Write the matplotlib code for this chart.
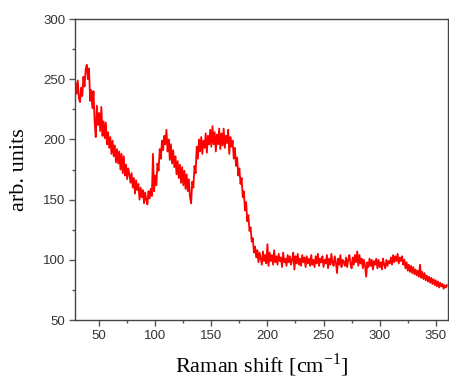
import numpy as np
import matplotlib
matplotlib.use("Agg")
import matplotlib.pyplot as plt
from matplotlib.ticker import MultipleLocator

plt.rcParams['mathtext.fontset'] = 'custom'
plt.rcParams['mathtext.rm'] = 'Liberation Serif'

# Raman intensity (arb. units), sampled every 1 cm^-1 starting at 29 cm^-1
intensity = [
    247, 238, 249, 234, 231, 243, 236, 252, 244, 258,
    262, 250, 259, 232, 241, 226, 240, 215, 202, 228,
    212, 222, 207, 227, 203, 215, 201, 214, 196, 206,
    193, 202, 188, 199, 186, 195, 181, 192, 180, 190,
    175, 188, 172, 186, 170, 179, 167, 176, 171, 164,
    172, 160, 168, 155, 166, 158, 163, 150, 160, 152,
    158, 147, 156, 150, 146, 157, 151, 159, 153, 188,
    157, 170, 162, 180, 174, 192, 184, 199, 191, 203,
    196, 208, 190, 200, 183, 196, 180, 191, 177, 186,
    171, 182, 168, 179, 164, 177, 162, 174, 159, 171,
    157, 167, 152, 147, 165, 160, 178, 172, 194, 184,
    200, 190, 202, 188, 199, 193, 205, 189, 203, 196,
    208, 194, 211, 196, 206, 190, 204, 196, 209, 192,
    205, 195, 209, 193, 203, 197, 208, 188, 202, 194,
    199, 184, 193, 178, 185, 170, 176, 163, 168, 152,
    157, 141, 148, 132, 137, 124, 127, 115, 118, 106,
    111, 102, 108, 98, 106, 101, 96, 107, 99, 104,
    97, 113, 95, 106, 99, 104, 96, 108, 98, 103,
    96, 105, 99, 102, 94, 106, 98, 101, 95, 104,
    98, 103, 96, 100, 106, 92, 103, 97, 105, 96,
    101, 95, 104, 98, 102, 94, 103, 97, 101, 95,
    104, 96, 100, 94, 103, 97, 105, 95, 101, 98,
    103, 94, 100, 97, 104, 93, 101, 96, 105, 97,
    95, 103, 98, 89, 101, 96, 104, 94, 100, 98,
    95, 102, 94, 100, 104, 97, 93, 102, 96, 104,
    98, 107, 95, 104, 97, 101, 93, 100, 95, 86,
    98, 94, 101, 95, 100, 92, 99, 96, 101, 93,
    100, 94, 98, 92, 101, 96, 93, 100, 95, 99,
    97, 102, 96, 104, 98, 103, 99, 105, 97, 102,
    99, 103, 96, 100, 93, 98, 91, 96, 90, 95,
    89, 94, 88, 92, 87, 91, 86, 96, 85, 90,
    84, 89, 83, 87, 82, 86, 81, 85, 80, 84,
    79, 83, 78, 82, 77, 81, 78, 80, 76, 79,
    77, 79,
]
shift_start = 29
raman_shift = np.arange(shift_start, shift_start + len(intensity))

x_ticks = [50, 100, 150, 200, 250, 300, 350]
y_ticks = [50, 100, 150, 200, 250, 300]

fig = plt.figure(figsize=(4.49, 3.81), dpi=100)
ax = fig.add_axes([0.167, 0.160, 0.831, 0.790])
ax.plot(raman_shift, intensity, color='#ff0000', lw=1.3)

ax.set_xlim(28.5, 361)
ax.set_ylim(50, 300)
ax.set_xticks(x_ticks)
ax.set_yticks(y_ticks)
ax.xaxis.set_minor_locator(MultipleLocator(25))
ax.yaxis.set_minor_locator(MultipleLocator(25))
ax.tick_params(which='major', direction='out', length=4, width=1, color='#555555',
               labelsize=9.5, labelcolor='#333333', pad=3)
ax.tick_params(which='minor', direction='out', length=2.5, width=1, color='#555555')
for lab in ax.get_xticklabels() + ax.get_yticklabels():
    lab.set_family('Liberation Sans')
for s in ax.spines.values():
    s.set_color('#444444')
    s.set_linewidth(1.0)

ax.set_xlabel('Raman shift [cm$^{\\mathregular{-1}}$]', family='Liberation Serif',
              fontsize=16, labelpad=7)
ax.set_ylabel('arb. units', family='Liberation Serif', fontsize=16, labelpad=10)

fig.savefig('out.png', dpi=100)
